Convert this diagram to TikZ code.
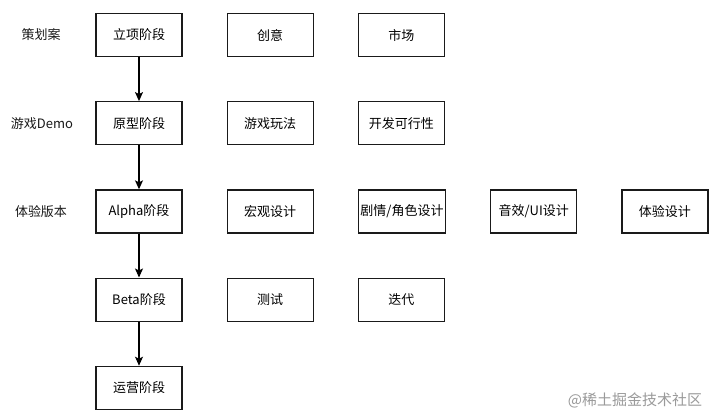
\documentclass[tikz,border=0pt]{standalone}
\usepackage{fontspec}
\setmainfont{Noto Sans CJK SC}
\usepackage{xcolor}
\usepackage{tikz}
\usetikzlibrary{arrows.meta,positioning}
\definecolor{LineGray}{HTML}{1A1A1A}
\definecolor{MarkGray}{HTML}{9A9A9A}
\tikzset{
  stagebox/.style={draw=LineGray,line width=1.2pt,fill=white,align=center,
              minimum width=86pt,minimum height=43pt,inner sep=2pt,font=\fontsize{13}{15}\selectfont},
  rowlabel/.style={font=\fontsize{13}{15}\selectfont,text=LineGray},
  flow/.style={-{Stealth[length=9pt,width=8pt,inset=2pt]},line width=1.1pt,draw=black},
  sitemark/.style={font=\fontsize{15}{17}\selectfont,text=MarkGray}
}
\begin{document}
\begin{tikzpicture}[node distance=44pt and 44pt]
  \useasboundingbox[fill=white] (0,0) rectangle (712pt,-413pt);
  % stage column
  \node[stagebox] (plan) at (139pt,-35pt) {立项阶段};
  \node[stagebox,below=of plan] (proto) {原型阶段};
  \node[stagebox,below=of proto] (alpha) {Alpha阶段};
  \node[stagebox,below=of alpha] (beta) {Beta阶段};
  \node[stagebox,below=of beta] (ops) {运营阶段};

  % row labels
  \node[rowlabel] (lplan) at ([xshift=-98pt]plan.center) {策划案};
  \node[rowlabel] (lproto) at ([xshift=-97pt]proto.center) {游戏Demo};
  \node[rowlabel] (lalpha) at ([xshift=-98pt]alpha.center) {体验版本};

  % contents of each stage
  \node[stagebox,right=of plan] (idea) {创意};
  \node[stagebox,right=of idea] (market) {市场};
  \node[stagebox,right=of proto] (play) {游戏玩法};
  \node[stagebox,right=of play] (feasible) {开发可行性};
  \node[stagebox,right=of alpha] (macro) {宏观设计};
  \node[stagebox,right=of macro] (story) {剧情/角色设计};
  \node[stagebox,right=of story] (sound) {音效/UI设计};
  \node[stagebox,right=of sound] (ux) {体验设计};
  \node[stagebox,right=of beta] (test) {测试};
  \node[stagebox,right=of test] (iter) {迭代};

  \draw[flow] (plan) -- (proto);
  \draw[flow] (proto) -- (alpha);
  \draw[flow] (alpha) -- (beta);
  \draw[flow] (beta) -- (ops);

  \node[sitemark] (site) at (635pt,-400pt) {@稀土掘金技术社区};
\end{tikzpicture}
\end{document}
